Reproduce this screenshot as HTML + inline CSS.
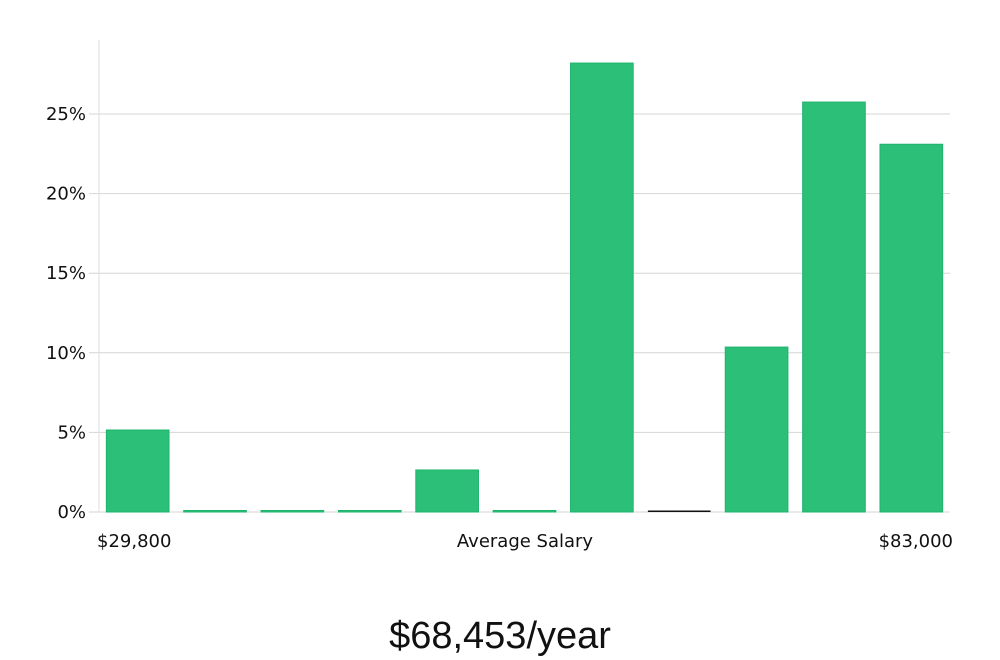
<!DOCTYPE html>
<html><head><meta charset="utf-8"><style>
body{margin:0;background:#fff;width:1000px;height:660px;overflow:hidden;font-family:"DejaVu Sans","Liberation Sans",sans-serif;}
svg{display:block}
</style></head><body>
<svg id="chart" width="1000" height="660">
<g id="grid"></g>
<g id="bars"></g>
<g id="yticks"></g>
<text x="97" y="547" font-size="18" fill="#111">$29,800</text>
<text x="525" y="547" font-size="18" fill="#111" text-anchor="middle">Average Salary</text>
<text x="953" y="547" font-size="18" fill="#111" text-anchor="end">$83,000</text>
<text x="500" y="648" font-size="38" fill="#111" text-anchor="middle" font-family="Liberation Sans Narrow, Liberation Sans, sans-serif">$68,453/year</text>
</svg>
<script>
const values=[5.15,0,0,0,2.64,0,28.2,0,10.36,25.75,23.1];
const tickValues=[0,5,10,15,20,25];
const tickLabels=["0%","5%","10%","15%","20%","25%"];
const highlightIndex=7;
const NS="http://www.w3.org/2000/svg";
const x0=99,x1=950,y0=512,pxPer=15.92;
const y=v=>y0-v*pxPer;
const step=(x1-x0)/values.length;
const bw=step*0.81;
const grid=document.getElementById('grid'),yt=document.getElementById('yticks'),bars=document.getElementById('bars');
function mk(t,a,p){const e=document.createElementNS(NS,t);for(const k in a)e.setAttribute(k,a[k]);p.appendChild(e);return e;}
const ax=mk('line',{x1:x0,x2:x0,y1:40,y2:y0,stroke:'#ddd'},yt);


tickValues.forEach((v,i)=>{
  const g=mk('line',{x1:x0-10,x2:x1,y1:y(v),y2:y(v),stroke:'#d6d6d6'},grid);
  
  
  const t=mk('text',{x:x0-13,y:y(v)+6,'font-size':18,'text-anchor':'end',fill:'#111'},yt);
  t.textContent=tickLabels[i];
  
  
});
values.forEach((v,i)=>{
  const bx=x0+step*i+(step-bw)/2;
  const h=Math.max(v*pxPer,1.5);
  const r=mk('rect',{x:bx,y:y0-h,width:bw,height:h,fill:i===highlightIndex&&v===0?'#111':'#2bbf78',stroke:i===highlightIndex&&v===0?'none':'#1fb46d','stroke-width':1},bars);
  
  
});
</script>
</body></html>
